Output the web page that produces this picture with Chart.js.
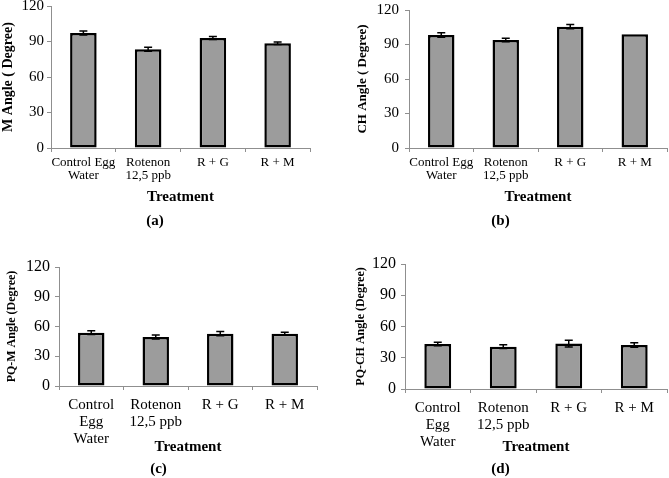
<!DOCTYPE html>
<html>
<head>
<meta charset="utf-8">
<script src="https://cdn.jsdelivr.net/npm/chart.js@4"></script>
<style>
  body { margin: 0; background: #fff; }
  #wrap { position: relative; width: 669px; height: 478px; }
  canvas { position: absolute; }
</style>
</head>
<body>
<div id="wrap">
  <canvas id="chA" width="334" height="240" style="left:0;top:0"></canvas>
  <canvas id="chB" width="335" height="240" style="left:334px;top:0"></canvas>
  <canvas id="chC" width="334" height="238" style="left:0;top:240px"></canvas>
  <canvas id="chD" width="335" height="238" style="left:334px;top:240px"></canvas>
</div>
<script>
// categories / tick labels
const categoriesTop = [['Control Egg', 'Water'], ['Rotenon', '12,5 ppb'], 'R + G', 'R + M'];
const categoriesBottom = [['Control', 'Egg', 'Water'], ['Rotenon', '12,5 ppb'], 'R + G', 'R + M'];
const yTicks = [0, 30, 60, 90, 120];

// means and error
const mAngle = [97.2, 83.4, 93.0, 88.5];
const mErr = [1.7, 1.7, 1.3, 1.1];
const chAngle = [98.3, 93.9, 105.5, 99.0];
const chErr = [2.0, 1.5, 1.9, 0];
const pqmAngle = [53.8, 49.4, 52.8, 52.8];
const pqmErr = [1.8, 2.0, 2.2, 1.5];
const pqchAngle = [43.2, 40.6, 43.6, 42.2];
const pqchErr = [1.6, 1.8, 3.2, 2.1];

const SERIF = '"Liberation Serif", "Times New Roman", serif';
const AXIS_GRAY = '#8f8f8f';

// simple error bar drawing using the y scale
const errorBars = {
  id: 'errorBars',
  afterDatasetsDraw(chart) {
    const errs = chart.options.plugins.errorBars.errors;
    const yScale = chart.scales.y;
    const ctx = chart.ctx;
    const meta = chart.getDatasetMeta(0);
    const vals = chart.data.datasets[0].data;
    ctx.save();
    ctx.strokeStyle = '#000';
    ctx.lineWidth = 1.5;
    meta.data.forEach((bar, i) => {
      const e = errs[i];
      if (!e) return;
      const hi = yScale.getPixelForValue(vals[i] + e);
      const lo = yScale.getPixelForValue(vals[i] - e);
      ctx.beginPath();
      ctx.moveTo(bar.x, hi); ctx.lineTo(bar.x, lo);
      ctx.moveTo(bar.x - 4, hi); ctx.lineTo(bar.x + 4, hi);
      ctx.moveTo(bar.x - 4, lo); ctx.lineTo(bar.x + 4, lo);
      ctx.stroke();
    });
    ctx.restore();
  }
};

function makeChart(id, p) {
  return new Chart(document.getElementById(id), {
    type: 'bar',
    data: {
      labels: p.labels,
      datasets: [{
        data: p.values,
        backgroundColor: '#9c9c9c',
        borderColor: '#000',
        borderWidth: 2.5,
        borderSkipped: false,
        categoryPercentage: 1,
        barPercentage: 0.41
      }]
    },
    options: {
      responsive: false,
      animation: false,
      layout: { padding: { top: p.top, right: p.right, bottom: 0, left: 0 } },
      plugins: {
        legend: { display: false },
        tooltip: { enabled: false },
        errorBars: { errors: p.errors },
        title: {
          display: true,
          position: 'bottom',
          text: p.tag,
          color: '#000',
          font: { family: SERIF, size: 15, weight: 'bold', lineHeight: 1.2 },
          padding: { top: 0, bottom: p.tagPad }
        }
      },
      scales: {
        x: {
          grid: { display: true, drawOnChartArea: false, color: AXIS_GRAY, tickLength: 4, offset: true },
          border: { color: AXIS_GRAY, width: 1 },
          ticks: {
            color: '#000', padding: p.xPad, maxRotation: 0, autoSkip: false,
            font: { family: SERIF, size: p.catSize, lineHeight: p.catLh }
          },
          title: {
            display: true, text: 'Treatment', color: '#000',
            font: { family: SERIF, size: 15, weight: 'bold', lineHeight: 1.2 },
            padding: { top: 0, bottom: p.xTitlePad }
          },
          afterFit(s) { s.height = p.xHeight; s.paddingLeft = 0; s.paddingRight = 0; }
        },
        y: {
          min: 0, max: 120,
          afterBuildTicks(s) { s.ticks = yTicks.map(v => ({ value: v })); },
          grid: { display: true, drawOnChartArea: false, color: AXIS_GRAY, tickLength: 4 },
          border: { color: AXIS_GRAY, width: 1 },
          ticks: {
            color: '#000', padding: p.yPad,
            font: { family: SERIF, size: p.tickSize, lineHeight: 1 }
          },
          title: {
            display: true, text: p.yTitle, color: '#000',
            font: { family: SERIF, size: p.yTitleSize, weight: 'bold', lineHeight: 1.2 },
            padding: { top: p.yTitlePad, bottom: 0 }
          },
          afterFit(s) { s.width = p.yWidth; s.paddingTop = 0; s.paddingBottom = 0; }
        }
      }
    },
    plugins: [errorBars]
  });
}

makeChart('chA', {
  labels: categoriesTop, values: mAngle, errors: mErr, tag: '(a)', yTitle: 'M Angle ( Degree)',
  top: 6, right: 24, tagPad: 10, xHeight: 64, xPad: 4, xTitlePad: 6, catSize: 13, catLh: 1.0,
  yWidth: 51, yPad: 3, tickSize: 15, yTitleSize: 14, yTitlePad: 0
});
makeChart('chB', {
  labels: categoriesTop, values: chAngle, errors: chErr, tag: '(b)', yTitle: 'CH Angle ( Degree)',
  top: 10, right: 2, tagPad: 10, xHeight: 64, xPad: 4, xTitlePad: 6, catSize: 13, catLh: 1.0,
  yWidth: 75, yPad: 6, tickSize: 15, yTitleSize: 13, yTitlePad: 21
});
makeChart('chC', {
  labels: categoriesBottom, values: pqmAngle, errors: pqmErr, tag: '(c)', yTitle: 'PQ-M Angle (Degree)',
  top: 27, right: 17, tagPad: 0, xHeight: 74, xPad: 6, xTitlePad: 4, catSize: 15, catLh: 1.15,
  yWidth: 59, yPad: 5, tickSize: 16, yTitleSize: 12, yTitlePad: 5
});
makeChart('chD', {
  labels: categoriesBottom, values: pqchAngle, errors: pqchErr, tag: '(d)', yTitle: 'PQ-CH Angle (Degree)',
  top: 24, right: 2, tagPad: 0, xHeight: 71, xPad: 6, xTitlePad: 4, catSize: 15, catLh: 1.15,
  yWidth: 71, yPad: 5, tickSize: 16, yTitleSize: 12, yTitlePad: 20
});
</script>
</body>
</html>
